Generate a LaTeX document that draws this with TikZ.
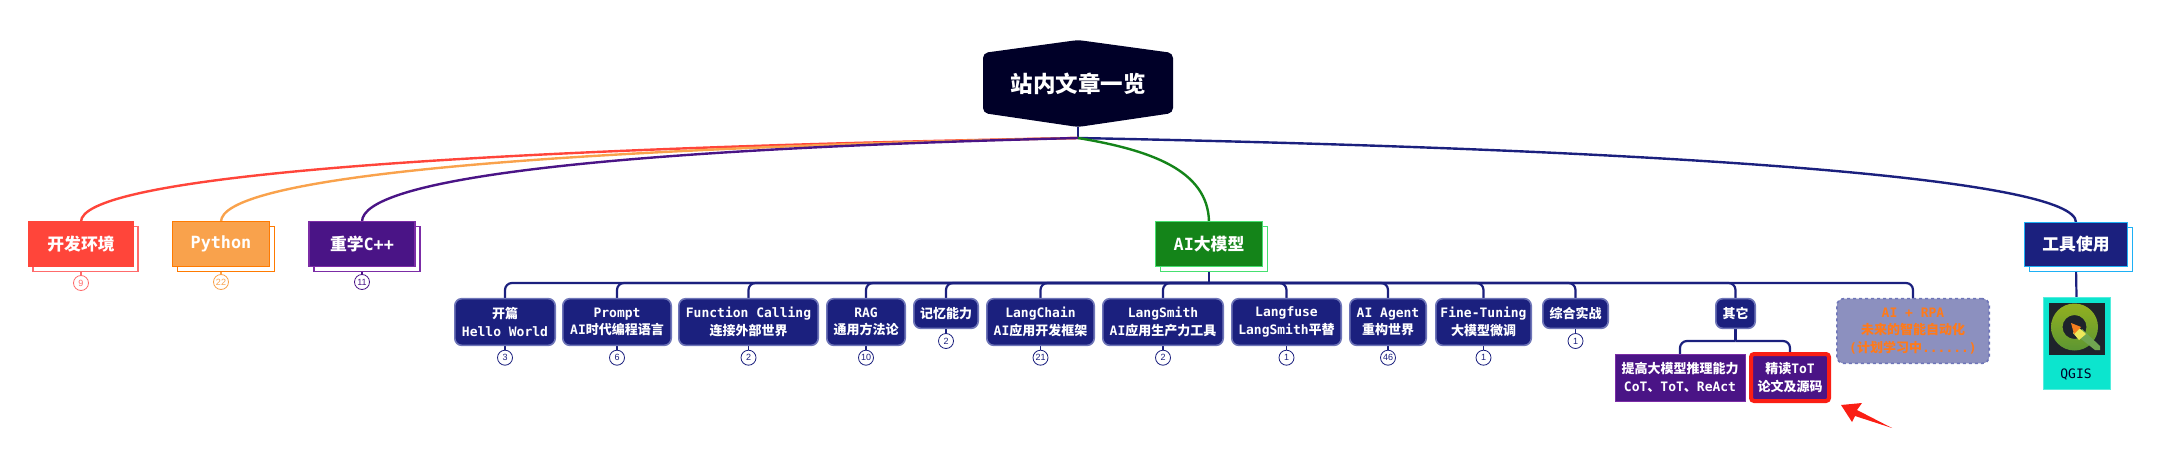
\documentclass[tikz,border=0pt]{standalone}
\usepackage{fontspec}
\usepackage{xcolor}
\usepackage{tikz}
\usetikzlibrary{positioning, shadows, backgrounds, shapes.geometric}
\setmainfont{DejaVu Sans Mono}
\newfontfamily\cjk{Noto Sans CJK SC}
\newfontfamily\numfont{Liberation Sans}
\newcommand{\zh}[1]{{\cjk #1}}
\definecolor{rootnavy}{RGB}{0,0,40}
\definecolor{navy}{RGB}{27,32,126}
\definecolor{navyedge}{RGB}{110,117,184}
\definecolor{devred}{RGB}{255,69,58}
\definecolor{devpink}{RGB}{255,107,107}
\definecolor{pyorange}{RGB}{249,162,76}
\definecolor{pyedge}{RGB}{255,122,0}
\definecolor{cppurple}{RGB}{74,20,134}
\definecolor{cpedge}{RGB}{123,44,166}
\definecolor{aigreen}{RGB}{20,132,25}
\definecolor{aiedge}{RGB}{70,224,112}
\definecolor{toolblue}{RGB}{30,176,245}
\definecolor{planfill}{RGB}{140,144,191}
\definecolor{planorange}{RGB}{255,122,26}
\definecolor{qgisteal}{RGB}{12,229,206}
\definecolor{qgisdark}{RGB}{30,35,43}
\definecolor{qgistop}{RGB}{147,176,32}
\definecolor{qgisbottom}{RGB}{92,150,50}
\definecolor{qgisrod}{RGB}{112,165,80}
\definecolor{qgisyellow}{RGB}{238,232,90}
\definecolor{qgisorange}{RGB}{245,125,30}
\definecolor{markred}{RGB}{250,30,20}
\begin{document}
\begin{tikzpicture}[x=1pt, y=-1pt,
  topicbox/.style={rectangle, line width=1.2pt, text=white, inner sep=0pt, outer sep=0pt,
              minimum height=44.5pt, align=center, font=\fontsize{16.8}{20}\selectfont\bfseries},
  itembox/.style={rectangle, rounded corners=7pt, draw=navyedge, line width=1.6pt, fill=navy,
              text=white, inner sep=0pt, outer sep=0pt, minimum height=46.7pt, align=center,
              font=\fontsize{13}{17.3}\selectfont\bfseries},
  shortbox/.style={itembox, minimum height=29.7pt},
  planbox/.style={itembox, draw=navyedge, dashed, fill=planfill, text=planorange, minimum height=64.7pt},
  subbox/.style={itembox, rounded corners=0pt},
  badge/.style={circle, draw=navy, line width=0.8pt, fill=white, text=navy, minimum size=15pt,
              inner sep=0pt, outer sep=0pt, font=\fontsize{9}{9}\numfont},
  link/.style={draw=navy, line width=2.2pt},
  fan/.style={line width=2.4pt},
  branch/.style={link, rounded corners=7pt}
]
\useasboundingbox (0,0) rectangle (2164,471);

% root
\fill[rootnavy, rounded corners=5pt] (983,53) -- (1078,40) -- (1173,53) -- (1173,113)
  -- (1078,127) -- (983,113) -- cycle;
\node[inner sep=0pt, outer sep=0pt, minimum width=190pt, minimum height=87pt, text=white,
      font=\fontsize{22.5}{26}\selectfont\bfseries] (root) at (1078,83.5) {\zh{站内文章一览}};
\coordinate (hub) at (1078,138);

% first level
\node[topicbox, minimum width=105pt, draw=devred, fill=devred,
      copy shadow={shadow xshift=4.5pt, shadow yshift=-5pt, draw=devpink, fill=white}] (dev) at (81,244) {\zh{开发环境}};
\node[topicbox, minimum width=97pt, draw=pyedge, fill=pyorange,
      copy shadow={shadow xshift=5pt, shadow yshift=-5pt, draw=pyedge, fill=white}] (python) at (221,244) {Python};
\node[topicbox, minimum width=106pt, draw=cpedge, fill=cppurple,
      copy shadow={shadow xshift=5pt, shadow yshift=-5pt, draw=cpedge, fill=white}] (cpp) at (362,244) {\zh{重学}C++};
\node[topicbox, minimum width=107pt, draw=aiedge, fill=aigreen,
      copy shadow={shadow xshift=5pt, shadow yshift=-5pt, draw=aiedge, fill=white}] (aimodel) at (1209,244) {AI\zh{大模型}};
\node[topicbox, minimum width=103pt, draw=toolblue, fill=navy,
      copy shadow={shadow xshift=5pt, shadow yshift=-5pt, draw=toolblue, fill=white}] (tools) at (2076,244.5) {\zh{工具使用}};

\node[badge, draw=devpink, text=devpink] (devnum) at (81,283) {9};
\node[badge, draw=pyorange, text=pyorange] (pythonnum) at (221,282) {22};
\node[badge, draw=cppurple, text=cppurple] (cppnum) at (362,282) {11};

% second level
\node[itembox, minimum width=100.4pt] (hello) at (505,322) {\zh{开篇}\\Hello World};
\node[itembox, minimum width=108.4pt, right=7.6pt of hello] (prompt) {Prompt\\AI\zh{时代编程语言}};
\node[itembox, minimum width=139.4pt, right=7.6pt of prompt] (calling) {Function Calling\\\zh{连接外部世界}};
\node[itembox, minimum width=78.4pt, right=8.6pt of calling] (rag) {RAG\\\zh{通用方法论}};
\node[shortbox, minimum width=64.4pt, below right=0pt and 8.6pt of rag.north east] (memory) {\zh{记忆能力}};
\node[itembox, minimum width=107.4pt, below right=0pt and 8.6pt of memory.north east] (chain) {LangChain\\AI\zh{应用开发框架}};
\node[itembox, minimum width=120.4pt, right=8.6pt of chain] (smith) {LangSmith\\AI\zh{应用生产力工具}};
\node[itembox, minimum width=109.4pt, right=8.6pt of smith] (fuse) {Langfuse\\LangSmith\zh{平替}};
\node[itembox, minimum width=76.4pt, right=8.6pt of fuse] (agent) {AI Agent\\\zh{重构世界}};
\node[itembox, minimum width=95.4pt, right=9.6pt of agent] (tuning) {Fine-Tuning\\\zh{大模型微调}};
\node[shortbox, minimum width=65.4pt, below right=0pt and 11.6pt of tuning.north east] (practice) {\zh{综合实战}};
\node[shortbox, minimum width=39.4pt, below right=0pt and 107.6pt of practice.north east] (other) {\zh{其它}};
\node[planbox, minimum width=152.4pt, below right=0pt and 81.6pt of other.north east] (rpa) {AI + RPA\\\zh{未来的智能自动化}\\(\zh{计划学习中}......)};

\node[badge] (hellonum) at (hello.south |- 0,357.7) {3};
\node[badge] (promptnum) at (prompt.south |- 0,357.7) {6};
\node[badge] (callingnum) at (calling.south |- 0,357.7) {2};
\node[badge] (ragnum) at (rag.south |- 0,357.7) {10};
\node[badge] (memorynum) at (memory.south |- 0,341) {2};
\node[badge] (chainnum) at (chain.south |- 0,357.7) {21};
\node[badge] (smithnum) at (smith.south |- 0,357.7) {2};
\node[badge] (fusenum) at (fuse.south |- 0,357.7) {1};
\node[badge] (agentnum) at (agent.south |- 0,357.7) {46};
\node[badge] (tuningnum) at (tuning.south |- 0,357.7) {1};
\node[badge] (practicenum) at (practice.south |- 0,341) {1};

% third level
\node[subbox, draw=cpedge, line width=0.8pt, fill=cppurple, minimum width=130pt, minimum height=47pt] (cot) at (1680,377.5)
  {\zh{提高大模型推理能力}\\CoT\zh{、}ToT\zh{、}ReAct};
\node[subbox, draw=markred, line width=4pt, rounded corners=3pt, fill=cppurple, minimum width=78pt, minimum height=47pt,
      right=6pt of cot] (tot) {\zh{精读}ToT\\\zh{论文及源码}};

% tools
\node[rectangle, fill=qgisteal, draw=qgisteal!70!white, line width=0.6pt, inner sep=0pt, outer sep=0pt,
      minimum width=67pt, minimum height=92pt] (qgis) at (2076.5,343) {};
\node[rectangle, fill=qgisdark, inner sep=0pt, outer sep=0pt, minimum width=56pt, minimum height=52pt,
      below=6pt of qgis.north] (qgisicon) {};
\node[text=rootnavy, inner sep=0pt, outer sep=0pt, font=\fontsize{13}{15}\selectfont] (qgistext) at (2076,375) {QGIS};
\shade[top color=qgistop, bottom color=qgisbottom, even odd rule]
  (2074.5,327) circle (23.5pt) (2074.5,327) circle (12pt);
\fill[qgisrod] (2082,329) -- (2100,346) -- (2100,350) -- (2095,350) -- (2076,335) -- cycle;
\fill[qgisyellow] (2078,327) -- (2086,334) -- (2079,340) -- (2073,333) -- cycle;
\fill[qgisorange] (2071,323) -- (2081,327) -- (2074,334) -- cycle;

% mark
\fill[markred] (1841,405) -- (1862,403) -- (1857,410) -- (1892,428) -- (1855,416) -- (1852,422) -- cycle;

% connectors
\begin{scope}[on background layer]
\draw[link] (root.south) -- (hub);
\draw[fan, devred] (hub) .. controls (400,150) and (81,180) .. (dev.north);
\draw[fan, pyorange] (hub) .. controls (495,150) and (221,180) .. (python.north);
\draw[fan, cppurple] (hub) .. controls (591,150) and (362,180) .. (cpp.north);
\draw[fan, navy] (hub) .. controls (1700,150) and (2076,180) .. (tools.north);
\draw[fan, aigreen] (hub) .. controls (1150,150) and (1208,170) .. (aimodel.north);

\draw[link, line width=1.4pt, devpink] (dev.south) -- (devnum.north);
\draw[link, line width=1.4pt, pyorange] (python.south) -- (pythonnum.north);
\draw[link, line width=1.4pt, cppurple] (cpp.south) -- (cppnum.north);
\draw[link] (tools.south) -- (qgis.north);

\coordinate (bus) at (aimodel.south |- 0,283);
\draw[link] (aimodel.south) -- (bus);
\draw[branch] (bus) -| (hello.north);
\draw[branch] (bus) -| (prompt.north);
\draw[branch] (bus) -| (calling.north);
\draw[branch] (bus) -| (rag.north);
\draw[branch] (bus) -| (memory.north);
\draw[branch] (bus) -| (chain.north);
\draw[branch] (bus) -| (smith.north);
\draw[branch] (bus) -| (fuse.north);
\draw[branch] (bus) -| (agent.north);
\draw[branch] (bus) -| (tuning.north);
\draw[branch] (bus) -| (practice.north);
\draw[branch] (bus) -| (other.north);
\draw[branch] (bus) -| (rpa.north);

\draw[link, line width=1.4pt] (hello.south) -- (hellonum.north);
\draw[link, line width=1.4pt] (prompt.south) -- (promptnum.north);
\draw[link, line width=1.4pt] (calling.south) -- (callingnum.north);
\draw[link, line width=1.4pt] (rag.south) -- (ragnum.north);
\draw[link, line width=1.4pt] (memory.south) -- (memorynum.north);
\draw[link, line width=1.4pt] (chain.south) -- (chainnum.north);
\draw[link, line width=1.4pt] (smith.south) -- (smithnum.north);
\draw[link, line width=1.4pt] (fuse.south) -- (fusenum.north);
\draw[link, line width=1.4pt] (agent.south) -- (agentnum.north);
\draw[link, line width=1.4pt] (tuning.south) -- (tuningnum.north);
\draw[link, line width=1.4pt] (practice.south) -- (practicenum.north);

\coordinate (subbus) at (other.south |- 0,341);
\draw[link] (other.south) -- (subbus);
\draw[branch] (subbus) -| (cot.north);
\draw[branch] (subbus) -| (tot.north);
\end{scope}
\end{tikzpicture}
\end{document}
